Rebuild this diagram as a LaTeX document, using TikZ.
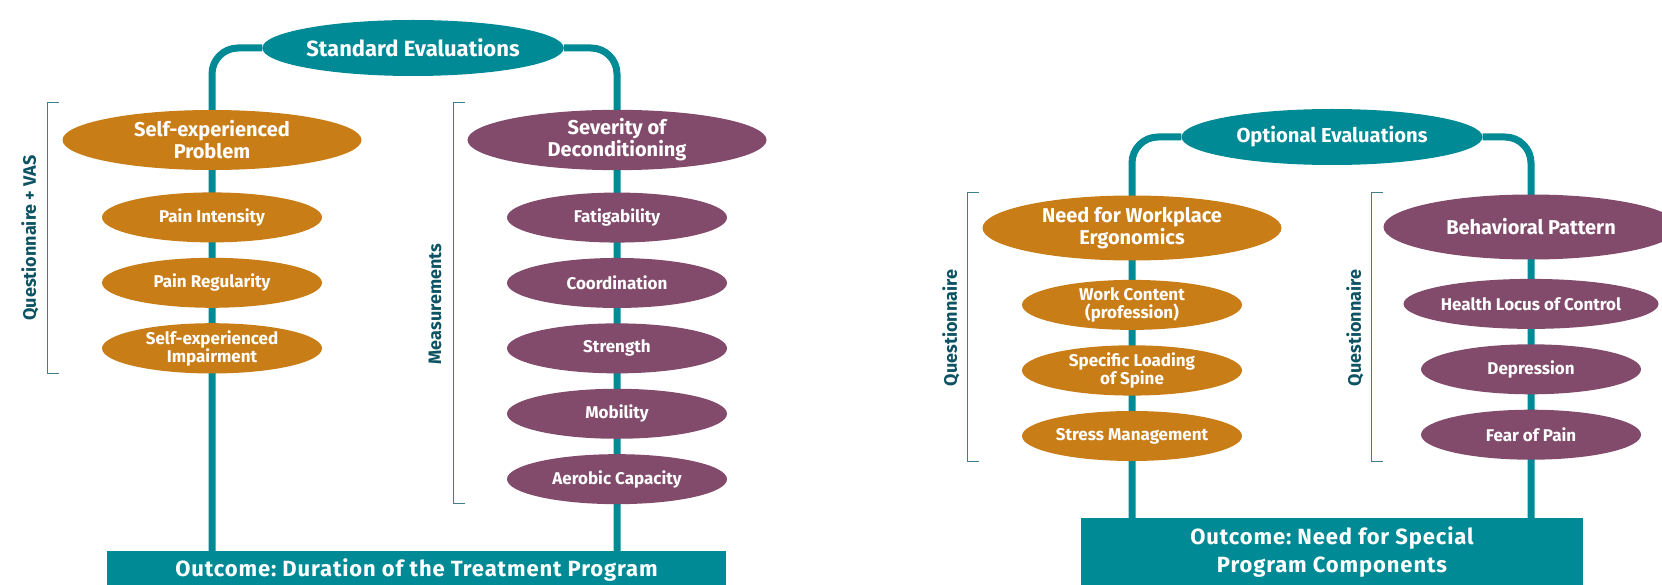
\documentclass[tikz,border=0pt]{standalone}
\usepackage{fontspec}
\newfontfamily\evalfont{Fira Sans}
\newfontfamily\outfont[LetterSpace=4]{Fira Sans}
\usetikzlibrary{positioning}
\usetikzlibrary{shapes.geometric}
\usetikzlibrary{backgrounds}
\definecolor{evalteal}{HTML}{008A95}
\definecolor{evalorange}{HTML}{C97D17}
\definecolor{evalplum}{HTML}{824B6B}
\definecolor{bracketblue}{HTML}{3D7F8B}
\definecolor{labelblue}{HTML}{0D5363}
\tikzset{
    hub/.style={ellipse, fill=evalteal, text=white, minimum width=301pt, minimum height=56pt, inner sep=0pt, font=\evalfont\bfseries\fontsize{22}{24}\selectfont},
    topic/.style={ellipse, text=white, minimum width=299pt, minimum height=60pt, inner sep=0pt, align=center, font=\evalfont\bfseries\fontsize{20}{22}\selectfont},
    item/.style={ellipse, text=white, minimum width=220pt, minimum height=50pt, inner sep=0pt, align=center, font=\evalfont\bfseries\fontsize{17}{18}\selectfont},
    outcome/.style={rectangle, fill=evalteal, text=white, inner sep=0pt, align=center, font=\outfont\bfseries\fontsize{22}{27.5}\selectfont},
    trunk/.style={draw=evalteal, line width=7pt, rounded corners=26pt},
    bracket/.style={draw=bracketblue, line width=1pt},
    side/.style={rotate=90, text=labelblue, font=\evalfont\bfseries\fontsize{18}{20}\selectfont}
}

\begin{document}
\begin{tikzpicture}[x=1pt, y=-1pt]
        \useasboundingbox (0,0) rectangle (1662,585);
        % standard evaluations
        \node[hub] (std) at (413,48) {Standard Evaluations};
        \node[topic, fill=evalorange] (sep) at (212,140) {Self-experienced\\Problem};
        \node[item, fill=evalorange, below=22pt of sep] (pint) {Pain Intensity};
        \node[item, fill=evalorange, below=15pt of pint] (preg) {Pain Regularity};
        \node[item, fill=evalorange, below=15pt of preg] (simp) {Self-experienced\\Impairment};
        \node[topic, fill=evalplum] (sod) at (617,140) {Severity of\\Deconditioning};
        \node[item, fill=evalplum, below=22pt of sod] (fat) {Fatigability};
        \node[item, fill=evalplum, below=15pt of fat] (coord) {Coordination};
        \node[item, fill=evalplum, below=15pt of coord] (str) {Strength};
        \node[item, fill=evalplum, below=15pt of str] (mob) {Mobility};
        \node[item, fill=evalplum, below=15pt of mob] (aer) {Aerobic Capacity};
        \node[outcome, minimum width=619pt, minimum height=39pt] (outL) at (416.5,570.5) {Outcome:\ Duration of the Treatment Program};
        % optional evaluations
        \node[hub, font=\evalfont\bfseries\fontsize{20.2}{22}\selectfont] (opt) at (1332,137) {Optional Evaluations};
        \node[topic, fill=evalorange, minimum height=65pt] (nwe) at (1132,228) {Need for Workplace\\Ergonomics};
        \node[item, fill=evalorange, below=19pt of nwe] (work) {Work Content\\(profession)};
        \node[item, fill=evalorange, below=15pt of work] (spine) {Specific Loading\\of Spine};
        \node[item, fill=evalorange, below=15pt of spine] (stress) {Stress Management};
        \node[topic, fill=evalplum, minimum height=65pt, minimum width=295pt] (beh) at (1531,227) {Behavioral Pattern};
        \node[item, fill=evalplum, below=19pt of beh] (locus) {Health Locus of Control};
        \node[item, fill=evalplum, below=15pt of locus] (depr) {Depression};
        \node[item, fill=evalplum, below=15pt of depr] (fear) {Fear of Pain};
        \node[outcome, minimum width=502pt, minimum height=68pt] (outR) at (1332,552) {Outcome:\ Need for Special\\Program Components};
        % trunks
        \begin{scope}[on background layer]
            \draw[trunk] (std) -| (outL.north -| sep);
            \draw[trunk] (std) -| (outL.north -| sod);
            \draw[trunk] (opt) -| (outR.north -| nwe);
            \draw[trunk] (opt) -| (outR.north -| beh);
        \end{scope}
        % brackets
        \draw[bracket] (59,103) -- (47,103) -- (47,373) -- (59,373);
        \draw[bracket] (465,103) -- (453,103) -- (453,503) -- (465,503);
        \draw[bracket] (979,193) -- (967,193) -- (967,461) -- (979,461);
        \draw[bracket] (1383,193) -- (1371,193) -- (1371,461) -- (1383,461);
        \node[side] (qvas) at (30,238) {Questionnaire + VAS};
        \node[side] (meas) at (435,304) {Measurements};
        \node[side] (qwork) at (951,328) {Questionnaire};
        \node[side] (qbeh) at (1355,328) {Questionnaire};
\end{tikzpicture}
\end{document}
